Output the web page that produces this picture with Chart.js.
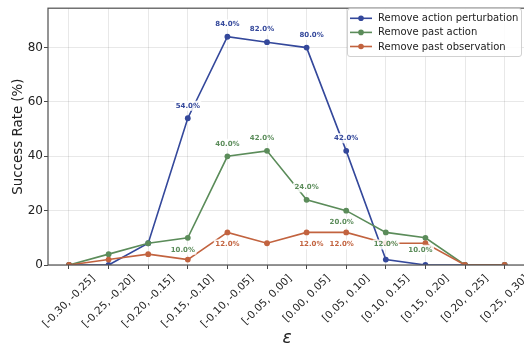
<!DOCTYPE html>
<html>
<head>
<meta charset="utf-8">
<script src="https://cdn.jsdelivr.net/npm/chart.js@4/dist/chart.umd.min.js"></script>
<style>
  html, body { margin: 0; padding: 0; overflow: hidden; background: #ffffff; }
  canvas { display: block; }
</style>
</head>
<body>
<canvas id="chart" width="530" height="347"></canvas>
<script>
// Perturbation-interval buckets on the x axis
const intervals = [
  '[-0.30, -0.25]', '[-0.25, -0.20]', '[-0.20, -0.15]', '[-0.15, -0.10]',
  '[-0.10, -0.05]', '[-0.05, 0.00]', '[0.00, 0.05]', '[0.05, 0.10]',
  '[0.10, 0.15]', '[0.15, 0.20]', '[0.20, 0.25]', '[0.25, 0.30]'
];

// Success rate (%) per ablation
const removeActionPerturbation = [0, 0, 8, 54, 84, 82, 80, 42, 2, 0, 0, 0];
const removePastAction         = [0, 4, 8, 10, 40, 42, 24, 20, 12, 10, 0, 0];
const removePastObservation    = [0, 2, 4, 2, 12, 8, 12, 12, 8, 8, 0, 0];

const seriesNames = ['Remove action perturbation', 'Remove past action', 'Remove past observation'];
const yTicks = [0, 20, 40, 60, 80];

const COLORS = ['#34489b', '#5b8c5a', '#c2633f'];
const FONT = '"DejaVu Sans", "Liberation Sans", sans-serif';

// Value labels: shown for values >= 10; 'a' = above the point, 'b' = below, with optional sideways nudge
const labelPlacement = [
  { 3: [0, 'a'], 4: [0, 'a'], 5: [-5, 'a'], 6: [5, 'a'], 7: [0, 'a'] },
  { 3: [-5, 'b'], 4: [0, 'a'], 5: [-5, 'a'], 6: [0, 'a'], 7: [-4.5, 'b'], 8: [0, 'b'], 9: [-5, 'b'] },
  { 4: [0, 'b'], 6: [4.7, 'b'], 7: [-4.5, 'b'] }
];

function toPoints(values) {
  return values.map((v, i) => ({ x: i, y: v }));
}

const allSeries = [removeActionPerturbation, removePastAction, removePastObservation];

const datasets = allSeries.map((vals, k) => ({
  label: seriesNames[k],
  data: toPoints(vals),
  borderColor: COLORS[k],
  backgroundColor: COLORS[k],
  pointBackgroundColor: COLORS[k],
  pointBorderColor: COLORS[k],
  borderWidth: 1.6,
  pointRadius: 2.9,
  pointBorderWidth: 0,
  pointHoverRadius: 2.9,
  tension: 0,
  clip: 0,
  order: 2 - k
}));

function roundRect(ctx, x, y, w, h, r) {
  ctx.beginPath();
  ctx.moveTo(x + r, y);
  ctx.lineTo(x + w - r, y);
  ctx.arcTo(x + w, y, x + w, y + r, r);
  ctx.lineTo(x + w, y + h - r);
  ctx.arcTo(x + w, y + h, x + w - r, y + h, r);
  ctx.lineTo(x + r, y + h);
  ctx.arcTo(x, y + h, x, y + h - r, r);
  ctx.lineTo(x, y + r);
  ctx.arcTo(x, y, x + r, y, r);
  ctx.closePath();
}

const decorations = {
  id: 'decorations',
  afterDatasetsDraw(chart) {
    const ctx = chart.ctx;
    const area = chart.chartArea;
    const xs = chart.scales.x;
    const ys = chart.scales.y;

    // axes frame
    ctx.save();
    ctx.strokeStyle = '#555555';
    ctx.lineWidth = 1.25;
    ctx.strokeRect(area.left, area.top, area.right - area.left, area.bottom - area.top);
    ctx.restore();

    // rotated category labels, centred under each tick
    ctx.save();
    const fs = 10.5;
    ctx.font = fs + 'px ' + FONT;
    ctx.fillStyle = '#222222';
    ctx.textAlign = 'center';
    ctx.textBaseline = 'middle';
    const top = area.bottom + 7.5;
    intervals.forEach((lab, i) => {
      const w = ctx.measureText(lab).width;
      const h = fs * 1.17;
      const s = (w + h) / Math.SQRT2;
      const cx = xs.getPixelForValue(i);
      const cy = top + s / 2;
      ctx.save();
      ctx.translate(cx, cy);
      ctx.rotate(-Math.PI / 4);
      ctx.fillText(lab, 0, 0);
      ctx.restore();
    });
    ctx.restore();

    // value labels
    ctx.save();
    ctx.font = 'bold 7px ' + FONT;
    ctx.textAlign = 'center';
    ctx.textBaseline = 'middle';
    allSeries.forEach((vals, k) => {
      vals.forEach((v, i) => {
        if (v < 10) return;
        const place = labelPlacement[k][i] || [0, 'a'];
        const px = xs.getPixelForValue(i) + place[0];
        const py = ys.getPixelForValue(v) + (place[1] === 'a' ? -12.5 : 12);
        const txt = v.toFixed(1) + '%';
        const w = ctx.measureText(txt).width;
        ctx.fillStyle = 'rgba(255,255,255,0.85)';
        roundRect(ctx, px - w / 2 - 1.5, py - 5, w + 3, 10, 1.5);
        ctx.fill();
        ctx.fillStyle = COLORS[k];
        ctx.fillText(txt, px, py);
      });
    });
    ctx.restore();

    // legend box
    ctx.save();
    const bx = 347, by = 8, bw = 174, bh = 48;
    roundRect(ctx, bx + 0.5, by + 0.5, bw, bh, 2.5);
    ctx.fillStyle = 'rgba(255,255,255,0.85)';
    ctx.fill();
    ctx.strokeStyle = '#cccccc';
    ctx.lineWidth = 0.9;
    ctx.stroke();
    ctx.font = '10px ' + FONT;
    ctx.textAlign = 'left';
    ctx.textBaseline = 'middle';
    chart.data.datasets.forEach((ds, k) => {
      const ry = 18.3 + k * 14.1;
      ctx.strokeStyle = ds.borderColor;
      ctx.lineWidth = 1.6;
      ctx.beginPath();
      ctx.moveTo(350, ry);
      ctx.lineTo(372, ry);
      ctx.stroke();
      ctx.fillStyle = ds.borderColor;
      ctx.beginPath();
      ctx.arc(361, ry, 2.8, 0, Math.PI * 2);
      ctx.fill();
      ctx.fillStyle = '#222222';
      ctx.fillText(ds.label, 378, ry + 0.5);
    });
    ctx.restore();
  }
};

new Chart(document.getElementById('chart'), {
  type: 'line',
  data: { datasets },
  options: {
    responsive: false,
    animation: false,
    devicePixelRatio: 1,
    layout: { padding: { left: 0, top: 5, right: 4, bottom: 0 } },
    plugins: {
      legend: { display: false },
      tooltip: { enabled: false }
    },
    scales: {
      x: {
        type: 'linear',
        min: -0.53,
        max: 11.54,
        afterBuildTicks(scale) {
          scale.ticks = intervals.map((_, i) => ({ value: i }));
        },
        afterFit(scale) { scale.height = 82; },
        ticks: { display: false },
        grid: {
          color: 'rgba(0,0,0,0.1)',
          lineWidth: 0.9,
          drawTicks: true,
          tickLength: 4,
          tickColor: '#333333',
          tickWidth: 0.9
        },
        border: { display: false },
        title: {
          display: true,
          text: 'ε',
          color: '#222222',
          font: { family: FONT, size: 17, style: 'italic' },
          padding: { top: 0, bottom: -1.5 }
        }
      },
      y: {
        min: 0,
        max: 94.5,
        afterBuildTicks(scale) {
          scale.ticks = yTicks.map(v => ({ value: v }));
        },
        afterFit(scale) { scale.width = 48; },
        ticks: {
          color: '#222222',
          font: { family: FONT, size: 12 },
          padding: 1
        },
        grid: {
          color: 'rgba(0,0,0,0.1)',
          lineWidth: 0.9,
          drawTicks: true,
          tickLength: 4,
          tickColor: '#333333',
          tickWidth: 0.9
        },
        border: { display: false },
        title: {
          display: true,
          text: 'Success Rate (%)',
          color: '#222222',
          font: { family: FONT, size: 13.4 },
          padding: { top: 10, bottom: 0 }
        }
      }
    }
  },
  plugins: [decorations]
});
</script>
</body>
</html>
